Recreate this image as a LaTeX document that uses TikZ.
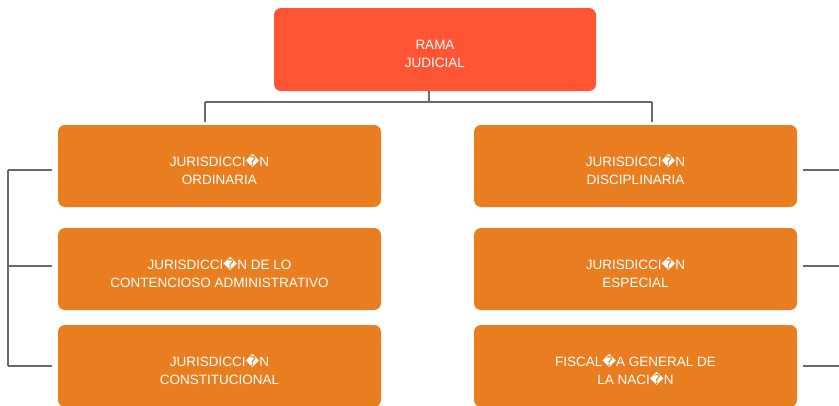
\documentclass[tikz,border=0pt]{standalone}
\usepackage{fontspec}
\setmainfont{Liberation Sans}
\newfontfamily\dvfont{DejaVu Sans}
\newcommand{\qmark}{{\dvfont\char"FFFD}}
\definecolor{rama}{HTML}{FF5535}
\definecolor{juris}{HTML}{E97E21}
\definecolor{linea}{HTML}{6A6A6A}

\begin{document}
\begin{tikzpicture}[x=1pt,y=-1pt]

\tikzstyle{caja}=[rectangle,rounded corners=7pt,fill=juris,text=white,minimum width=323pt,minimum height=82pt,align=center,inner sep=0pt,text height=36pt,text depth=0pt,font=\fontsize{13.5}{18}\selectfont]
\tikzstyle{raiz}=[caja,fill=rama,minimum width=322pt,minimum height=83pt]
\tikzstyle{con}=[linea,line width=1.4pt]

\useasboundingbox (0,0) rectangle (839,405);

\node[raiz] (rj) at (435,49.5) {RAMA\\JUDICIAL};

\node[caja] (ord) at (219.5,166) {JURISDICCI\qmark N\\ORDINARIA};
\node[caja] (cad) at (219.5,269) {JURISDICCI\qmark N DE LO\\CONTENCIOSO ADMINISTRATIVO};
\node[caja] (cst) at (219.5,366) {JURISDICCI\qmark N\\CONSTITUCIONAL};
\node[caja] (dis) at (635.5,166) {JURISDICCI\qmark N\\DISCIPLINARIA};
\node[caja] (esp) at (635.5,269) {JURISDICCI\qmark N\\ESPECIAL};
\node[caja] (fgn) at (635.5,366) {FISCAL\qmark A GENERAL DE\\LA NACI\qmark N};

\node[shape=coordinate] (tc) at (429,102){};
\node[shape=coordinate] (tl) at (205,102){};
\node[shape=coordinate] (tr) at (652,102){};
\node[shape=coordinate] (l1) at (8,170){};
\node[shape=coordinate] (l2) at (8,266){};
\node[shape=coordinate] (l3) at (8,366){};
\node[shape=coordinate] (r1) at (839,170){};
\node[shape=coordinate] (r2) at (839,266){};
\node[shape=coordinate] (r3) at (839,366){};

\draw[con] (tc |- rj.south) -- (tc);
\draw[con] (tl) -- (tr);
\draw[con,shorten >=3pt] (tl) -- (tl |- ord.north);
\draw[con,shorten >=3pt] (tr) -- (tr |- dis.north);

\draw[con] (l1) -- (l3);
\draw[con,shorten <=6pt] (ord.west |- l1) -- (l1);
\draw[con,shorten <=6pt] (cad.west |- l2) -- (l2);
\draw[con,shorten <=6pt] (cst.west |- l3) -- (l3);
\draw[con,shorten <=6pt] (dis.east |- r1) -- (r1);
\draw[con,shorten <=6pt] (esp.east |- r2) -- (r2);
\draw[con,shorten <=6pt] (fgn.east |- r3) -- (r3);

\end{tikzpicture}
\end{document}
